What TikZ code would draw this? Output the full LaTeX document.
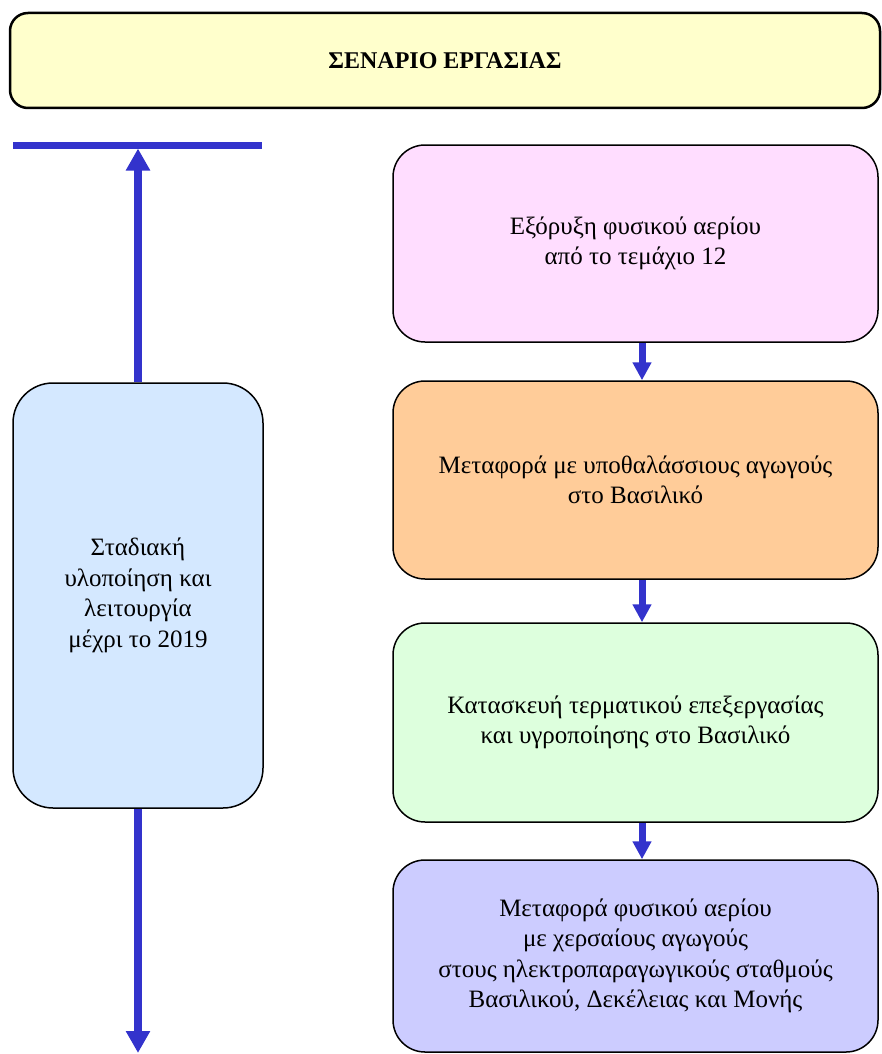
\documentclass[tikz,border=0pt]{standalone}
\usepackage{fontspec}
\setmainfont{Liberation Serif}
\usetikzlibrary{arrows.meta,positioning}
\definecolor{arrowblue}{rgb}{0.2,0.2,0.8}
\definecolor{titleyellow}{RGB}{255,255,204}
\definecolor{stagepink}{RGB}{255,221,255}
\definecolor{stageorange}{RGB}{255,204,153}
\definecolor{stagegreen}{RGB}{221,255,221}
\definecolor{stagepurple}{RGB}{204,204,255}
\definecolor{phaseblue}{RGB}{212,232,255}

\begin{document}
\begin{tikzpicture}[x=1pt,y=-1pt,
    stage/.style={rectangle,rounded corners=32pt,draw,line width=1.5pt,minimum width=485pt,align=center,font=\fontsize{25}{30.5}\selectfont},
    flow/.style={-{Triangle[length=18pt,width=18pt]},draw=arrowblue,line width=7pt},
    bigflow/.style={-{Triangle[length=22pt,width=23pt]},draw=arrowblue,line width=8pt}]
    \useasboundingbox (0,0) rectangle (881,1054);

    \node[rectangle,rounded corners=18pt,draw,line width=2.5pt,fill=titleyellow,minimum width=870pt,minimum height=95pt,font=\fontsize{24}{28}\selectfont\bfseries] (title) at (445,60.5) {ΣΕΝΑΡΙΟ ΕΡΓΑΣΙΑΣ};

    \node[stage,fill=stagepink,minimum height=197pt] (extract) at (635.5,243.5) {Εξόρυξη φυσικού αερίου\\από το τεμάχιο 12};
    \node[stage,fill=stageorange,minimum height=198pt] (subsea) at (635.5,480) {Μεταφορά με υποθαλάσσιους αγωγούς\\στο Βασιλικό};
    \node[stage,fill=stagegreen,minimum height=199pt] (terminal) at (635.5,722.5) {Κατασκευή τερματικού επεξεργασίας\\και υγροποίησης στο Βασιλικό};
    \node[stage,fill=stagepurple,minimum height=192pt] (onshore) at (635.5,956) {Μεταφορά φυσικού αερίου\\με χερσαίους αγωγούς\\στους ηλεκτροπαραγωγικούς σταθμούς\\Βασιλικού, Δεκέλειας και Μονής};

    \node[stage,fill=phaseblue,rounded corners=40pt,minimum width=250pt,minimum height=425pt] (phase) at (138,595.5) {Σταδιακή\\υλοποίηση και\\λειτουργία\\μέχρι το 2019};

    \coordinate (ax) at (642,0);
    \coordinate (barL) at (13,145);
    \coordinate (barR) at (262,145);
    \coordinate (endD) at (138,1053);

    \draw[flow] (extract.south -| ax) -- (subsea.north -| ax);
    \draw[flow] (subsea.south -| ax) -- (terminal.north -| ax);
    \draw[flow] (terminal.south -| ax) -- (onshore.north -| ax);

    \draw[draw=arrowblue,line width=7pt] (barL) -- (barR);
    \draw[bigflow,shorten >=3.5pt] (phase.north) -- (phase.north |- barL);
    \draw[bigflow] (phase.south) -- (endD);
\end{tikzpicture}
\end{document}
